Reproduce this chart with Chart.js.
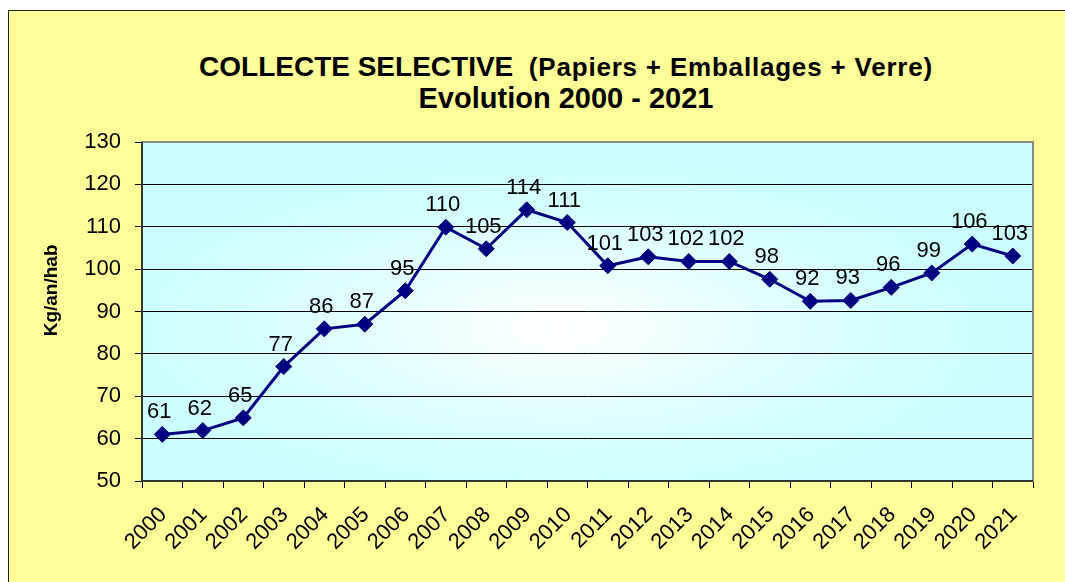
<!DOCTYPE html>
<html>
<head>
<meta charset="utf-8">
<script src="https://cdn.jsdelivr.net/npm/chart.js@4"></script>
<style>
  html, body { margin: 0; padding: 0; background: #fff; }
  #wrap { position: relative; width: 1065px; height: 582px; overflow: hidden; }
  #frame {
    position: absolute; left: 8px; top: 10px; width: 1100px; height: 600px;
    background: #FFFF99; border-left: 1px solid #222; border-top: 1px solid #222;
  }
  #myChart { position: absolute; left: 0; top: 0; }
  .ttl {
    position: absolute; left: 0; width: 1132px; text-align: center;
    font-family: "Liberation Sans", Arial, sans-serif; font-weight: bold; color: #000;
    font-size: 28px; line-height: 28px; white-space: pre;
  }
  .ttl .sub { font-size: 26px; line-height: 26px; letter-spacing: 0.8px; }
</style>
</head>
<body>
<div id="wrap">
  <div id="frame"></div>
  <div class="ttl" style="top:53px">COLLECTE SELECTIVE  <span class="sub">(Papiers + Emballages + Verre)</span></div>
  <div class="ttl" style="top:84px; font-size:29px; line-height:29px">Evolution 2000 - 2021</div>
  <canvas id="myChart" width="1065" height="582"></canvas>
</div>
<script>
// years on the x axis
const years = ['2000', '2001', '2002', '2003', '2004', '2005', '2006', '2007', '2008', '2009', '2010',
               '2011', '2012', '2013', '2014', '2015', '2016', '2017', '2018', '2019', '2020', '2021'];
// kg per inhabitant per year
const kgPerHab = [61, 61.9, 64.9, 77, 85.9, 87, 94.9, 109.9, 104.8, 114, 111,
                  100.8, 102.9, 101.8, 101.8, 97.6, 92.4, 92.6, 95.7, 99.1, 105.9, 103.1];
const yMin = 50;
const yMax = 130;
const yStep = 10;

const FONT = "'Liberation Sans', Arial, sans-serif";

// light cyan plot area with a white centre
const plotBackground = {
    id: 'plotBackground',
    beforeDraw(chart) {
        const { ctx, chartArea: a } = chart;
        const cx = a.left + a.width * 0.47;
        const cy = a.top + a.height * 0.55;
        ctx.save();
        ctx.beginPath();
        ctx.rect(a.left, a.top, a.width, a.height);
        ctx.clip();
        ctx.translate(cx, cy);
        ctx.scale(1, a.height / a.width);
        const r = a.width * 0.5;
        const g = ctx.createRadialGradient(0, 0, 0, 0, 0, r);
        g.addColorStop(0, '#FFFFFF');
        g.addColorStop(0.7, '#D6FFFF');
        g.addColorStop(1, '#CCFFFF');
        ctx.fillStyle = g;
        ctx.fillRect(-a.width, -a.width, a.width * 2, a.width * 2);
        ctx.restore();
    },
    beforeDatasetsDraw(chart) {
        const { ctx, chartArea: a } = chart;
        ctx.save();
        ctx.strokeStyle = '#8a8a8a';
        ctx.lineWidth = 2;
        ctx.strokeRect(a.left, a.top, a.width, a.height);
        ctx.strokeStyle = '#333';
        ctx.beginPath();
        ctx.moveTo(a.left, a.top);
        ctx.lineTo(a.left, a.bottom);
        ctx.lineTo(a.right, a.bottom);
        ctx.stroke();
        ctx.restore();
    }
};

// value above each point
const pointLabels = {
    id: 'pointLabels',
    afterDatasetsDraw(chart) {
        const { ctx } = chart;
        const meta = chart.getDatasetMeta(0);
        ctx.save();
        ctx.font = '22px ' + FONT;
        ctx.fillStyle = '#000';
        ctx.textAlign = 'center';
        ctx.textBaseline = 'alphabetic';
        meta.data.forEach((pt, i) => {
            const v = chart.data.datasets[0].data[i];
            ctx.fillText(String(Math.round(v)), pt.x - 3, pt.y - 16);
        });
        ctx.restore();
    }
};

const ctx = document.getElementById('myChart').getContext('2d');
new Chart(ctx, {
    type: 'line',
    data: {
        labels: years,
        datasets: [{
            label: 'Kg/an/hab',
            data: kgPerHab,
            borderColor: '#000080',
            borderWidth: 3,
            backgroundColor: '#000080',
            pointStyle: 'rectRot',
            pointRadius: 8,
            pointBorderWidth: 1,
            pointBorderColor: '#000080',
            pointBackgroundColor: '#000080',
            tension: 0,
            fill: false
        }]
    },
    options: {
        responsive: false,
        animation: false,
        layout: { padding: { left: 0, top: 142, right: 32, bottom: 0 } },
        plugins: {
            legend: { display: false },
            tooltip: { enabled: false }
        },
        scales: {
            x: {
                offset: true,
                grid: {
                    offset: true,
                    drawOnChartArea: false,
                    color: '#000',
                    tickLength: 7
                },
                border: { display: false },
                ticks: {
                    color: '#000',
                    font: { family: FONT, size: 22 },
                    maxRotation: 45,
                    minRotation: 45,
                    padding: 14,
                    labelOffset: 1,
                    autoSkip: false
                },
                afterFit(scale) { scale.height = 101; }
            },
            y: {
                min: yMin,
                max: yMax,
                ticks: {
                    stepSize: yStep,
                    color: '#000',
                    font: { family: FONT, size: 22 },
                    padding: 14
                },
                grid: { color: '#000', lineWidth: 1, tickLength: 7 },
                border: { display: false },
                title: {
                    display: true,
                    // leading spaces lift the rotated title a little, as in the original
                    text: '        Kg/an/hab',
                    color: '#000',
                    font: { family: FONT, size: 19, weight: 'bold' },
                    padding: { top: 40, bottom: 0 }
                },
                afterFit(scale) { scale.width = 142; }
            }
        }
    },
    plugins: [plotBackground, pointLabels]
});
</script>
</body>
</html>
